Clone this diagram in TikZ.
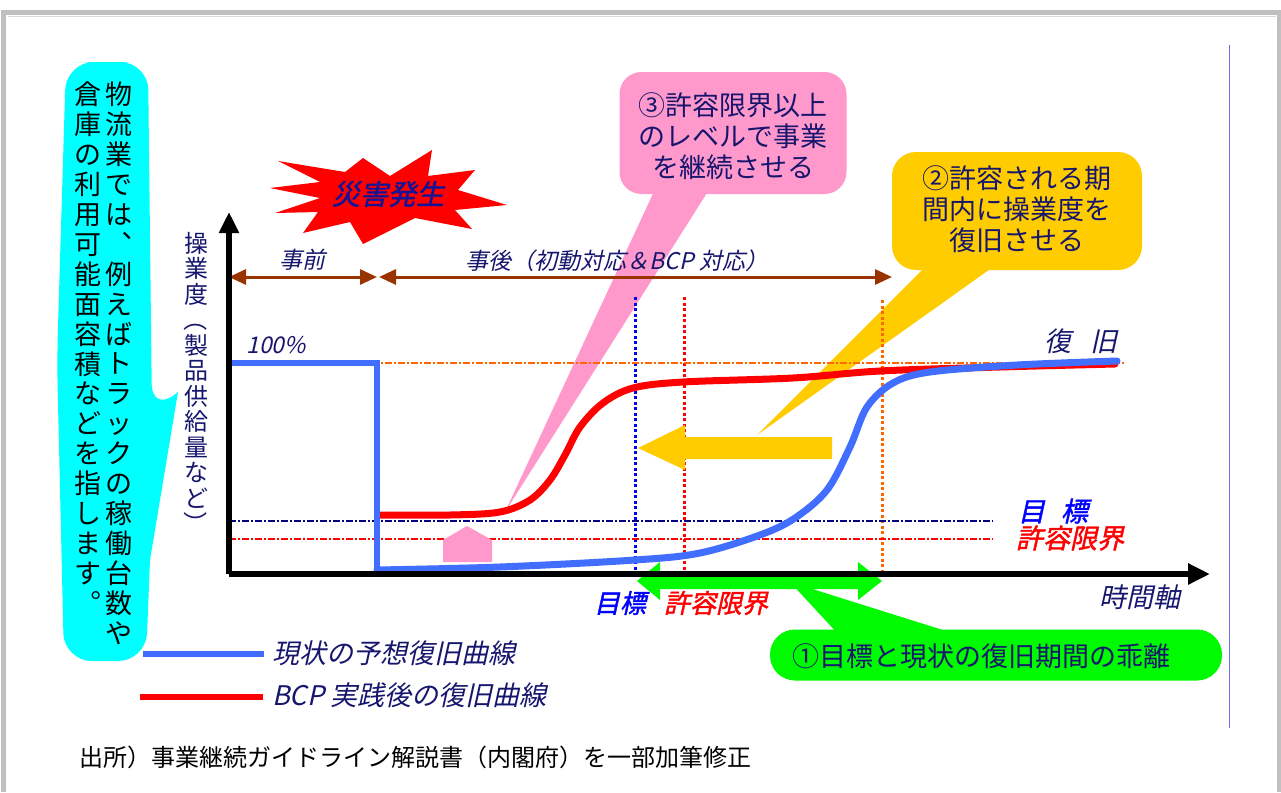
\documentclass[tikz,border=0pt]{standalone}
\usepackage{fontspec}
\usepackage{graphicx}
\usetikzlibrary{arrows.meta}
\newfontfamily\jp{Noto Sans CJK JP}
\newfontfamily\jpi[FakeSlant=0.22]{Noto Sans CJK JP}
\newfontfamily\jpib[FakeSlant=0.22,FakeBold=1.5]{Noto Sans CJK JP}
\definecolor{framegray}{RGB}{192,192,192}
\definecolor{navyt}{RGB}{22,22,110}
\definecolor{brownc}{RGB}{153,51,0}
\definecolor{bluec}{RGB}{66,110,255}
\definecolor{redc}{RGB}{255,0,0}
\definecolor{pinkc}{RGB}{255,153,204}
\definecolor{yellowc}{RGB}{255,204,0}
\definecolor{greenc}{RGB}{0,250,0}
\definecolor{cyanc}{RGB}{0,255,255}
\definecolor{orangec}{RGB}{255,102,0}
\definecolor{darknavy}{RGB}{0,0,128}
\definecolor{pureblue}{RGB}{0,0,255}
\definecolor{starblue}{RGB}{20,20,150}
\definecolor{linec}{RGB}{110,110,235}
\newcommand{\vparl}{\rotatebox[origin=c]{-90}{（}}
\newcommand{\vparr}{\rotatebox[origin=c]{-90}{）}}
\begin{document}
\begin{tikzpicture}[x=1pt,y=-1pt,
  every node/.style={inner sep=0pt},
  vdot/.style={line width=3pt, dash pattern=on 3pt off 2.5pt},
  hdash/.style={line width=2.6pt, dash pattern=on 7pt off 2pt on 2pt off 2pt},
  reccurve/.style={line width=7pt, line cap=round, line join=round},
  brarrow/.style={draw=brownc, line width=3pt, {Triangle[length=17pt,width=15pt]}-{Triangle[length=17pt,width=15pt]}},
  callouttext/.style={text=navyt, align=center, font=\jp\fontsize{27}{31}\selectfont},
  vcol/.style={anchor=north, align=center},
  itlabel/.style={font=\jpi\fontsize{27}{30}\selectfont, text=navyt},
  boldlabel/.style={font=\jpib\fontsize{27}{30}\selectfont}
]
\useasboundingbox (0,0) rectangle (1281,792);
% frame
\fill[white] (0,0) rectangle (1281,792);
\fill[framegray] (1,10) rectangle (1281,792);
\fill[white] (6,15) rectangle (1277,792);
\draw[gray!30, line width=0.8pt] (7.5,16.5) -- (1275.5,16.5);
\draw[linec, line width=0.9pt] (1229,45) coordinate (fl1) -- (1229,728) coordinate (fl2);

% cyan callout
\fill[cyanc] (100,62) [rounded corners=28pt] -- (148,62) -- (152,412) [sharp corners] -- (178,392) -- (150,560) [rounded corners=28pt] -- (146,661) -- (64,661) -- (57,360) -- (66,62) -- cycle;
\node[vcol, font=\jp\fontsize{27}{29.9}\selectfont] (cyanR) at (119,82)
 {物\\流\\業\\で\\は\\︑\\例\\え\\ば\\ト\\ラ\\ッ\\ク\\の\\稼\\働\\台\\数\\や};
\node[vcol, font=\jp\fontsize{27}{29.9}\selectfont] (cyanL) at (88,82)
 {倉\\庫\\の\\利\\用\\可\\能\\面\\容\\積\\な\\ど\\を\\指\\し\\ま\\す\\︒};

% pink callout
\node[fill=pinkc, rounded corners=22pt, minimum width=227pt, minimum height=122pt] (pinkbox) at (733,133) {};
\coordinate (pinktip) at (505,512);
\fill[pinkc] (657,185) -- (pinktip) -- (712,185) -- cycle;
\node[callouttext] (pinktext) at (733,136) {③許容限界以上\\のレベルで事業\\を継続させる};

% yellow callout
\node[fill=yellowc, rounded corners=24pt, minimum width=250pt, minimum height=118pt] (ybox) at (1017,211) {};
\coordinate (ytipc) at (757,435);
\fill[yellowc] (930,262) -- (ytipc) -- (1000,262) -- cycle;
\node[callouttext] (ytext) at (1017,209) {②許容される期\\間内に操業度を\\復旧させる};

% green callout
\node[fill=greenc, rounded corners=25pt, minimum width=452pt, minimum height=51pt] (gbox) at (996,655) {};
\coordinate (gtip) at (790,582);
\fill[greenc] (gtip) -- (840,636) -- (962,636) -- cycle;
\node[callouttext] (gtext) at (981,656) {①目標と現状の復旧期間の乖離};

% starburst
\fill[redc] (270,188) -- (320,182) -- (278,161) -- (345,172) -- (363,158) -- (390,176) -- (432,150) -- (428,176) -- (475,170) -- (458,190) -- (507,205) -- (455,210) -- (472,229) -- (415,218) -- (363,244) -- (350,222) -- (303,233) -- (318,212) -- (275,213) -- (320,198) -- cycle;
\node[font=\jpib\fontsize{28}{30}\selectfont, text=starblue] (disaster) at (388,194) {災害発生};

% brown period arrows
\coordinate (b0) at (229,277);
\coordinate (b1) at (377,277);
\coordinate (b2) at (379,277);
\coordinate (b3) at (892,277);
\draw[brarrow] (b0) -- (b1);
\draw[brarrow] (b2) -- (b3);
\node[font=\jpi\fontsize{23}{26}\selectfont, text=navyt] (pre) at (302,260) {事前};
\node[font=\jpi\fontsize{23}{26}\selectfont, text=navyt] (post) at (617,261) {事後（初動対応＆BCP 対応）};

% dotted verticals
\draw[vdot, pureblue] (635,297) coordinate (vb1) -- (635,574) coordinate (vb2);
\draw[vdot, redc] (684,297) coordinate (vr1) -- (684,574) coordinate (vr2);
\draw[vdot, orangec] (882,300) coordinate (vo1) -- (882,574) coordinate (vo2);

% dash-dot horizontals
\draw[hdash, orangec] (229,363) coordinate (ho1) -- (1125,363) coordinate (ho2);
\draw[hdash, darknavy] (229,521) coordinate (hn1) -- (993,521) coordinate (hn2);
\draw[hdash, redc] (229,539) coordinate (hr1) -- (993,539) coordinate (hr2);

% yellow left arrow
\fill[yellowc] (638,448) -- (685,425) -- (685,437) -- (832,437) -- (832,459) -- (685,459) -- (685,470) -- cycle;

% pink up arrow
\fill[pinkc] (443,562) -- (443,540) -- (467,526) -- (492,540) -- (492,562) -- cycle;

% green double arrow
\fill[greenc] (637,581) -- (660,562) -- (660,573) -- (858,573) -- (858,562) -- (882,581) -- (858,600) -- (858,589) -- (660,589) -- (660,600) -- cycle;

% red curve (BCP)
\draw[reccurve, redc] plot[smooth, tension=0.55] coordinates {(380,515) (450,515) (500,512) (530,500) (550,480) (565,455) (580,427) (603,403) (633,388) (683,382) (793,378) (880,371) (1000,367) (1115,364)};
% blue curve (current)
\draw[line width=6pt, bluec, line join=miter] (229,363) -- (377,363) -- (377,570);
\draw[reccurve, bluec] plot[smooth, tension=0.55] coordinates {(377,570) (500,567) (635,560) (700,553) (760,535) (795,518) (827,490) (850,447) (867,407) (893,383) (930,372) (1017,365) (1117,361)};

% axes
\coordinate (O) at (229,574);
\coordinate (ytop) at (229,212);
\coordinate (xend) at (1210,574);
\draw[line width=6pt, line cap=square, -{Triangle[length=21pt,width=19pt]}] (O) -- (ytop);
\draw[line width=6pt, -{Triangle[length=22pt,width=20pt]}] (O) -- (xend);

% axis labels
\node[vcol, font=\jp\fontsize{24}{25.5}\selectfont, text=navyt] (ylab) at (196,232)
 {操\\業\\度\\\vparl\\製\\品\\供\\給\\量\\な\\ど\\\vparr};
\node[font=\jpi\fontsize{23}{26}\selectfont, text=navyt] (p100) at (276,345) {100\%};
\node[itlabel] (fukkyu) at (1081,341) {復\hspace{20pt}旧};
\node[itlabel] (timeax) at (1140,597) {時間軸};
\node[boldlabel, text=pureblue] (target) at (1053,511) {目\hspace{16pt}標};
\node[boldlabel, text=redc] (limit) at (1070,538) {許容限界};
\node[boldlabel, text=pureblue, font=\jpib\fontsize{26}{30}\selectfont] (target2) at (620,603) {目標};
\node[boldlabel, text=redc, font=\jpib\fontsize{26}{30}\selectfont] (limit2) at (716,603) {許容限界};

% legend
\draw[bluec, line width=6pt] (143,654) coordinate (lb1) -- (264,654) coordinate (lb2);
\node[itlabel, anchor=west] (legb) at (272,653) {現状の予想復旧曲線};
\draw[redc, line width=6pt] (140,697) coordinate (lr1) -- (263,697) coordinate (lr2);
\node[itlabel, anchor=west] (legr) at (272,695) {BCP 実践後の復旧曲線};

% footer
\node[anchor=west, font=\jp\fontsize{24}{26}\selectfont] (src) at (79,757) {出所）事業継続ガイドライン解説書（内閣府）を一部加筆修正};
\end{tikzpicture}
\end{document}
